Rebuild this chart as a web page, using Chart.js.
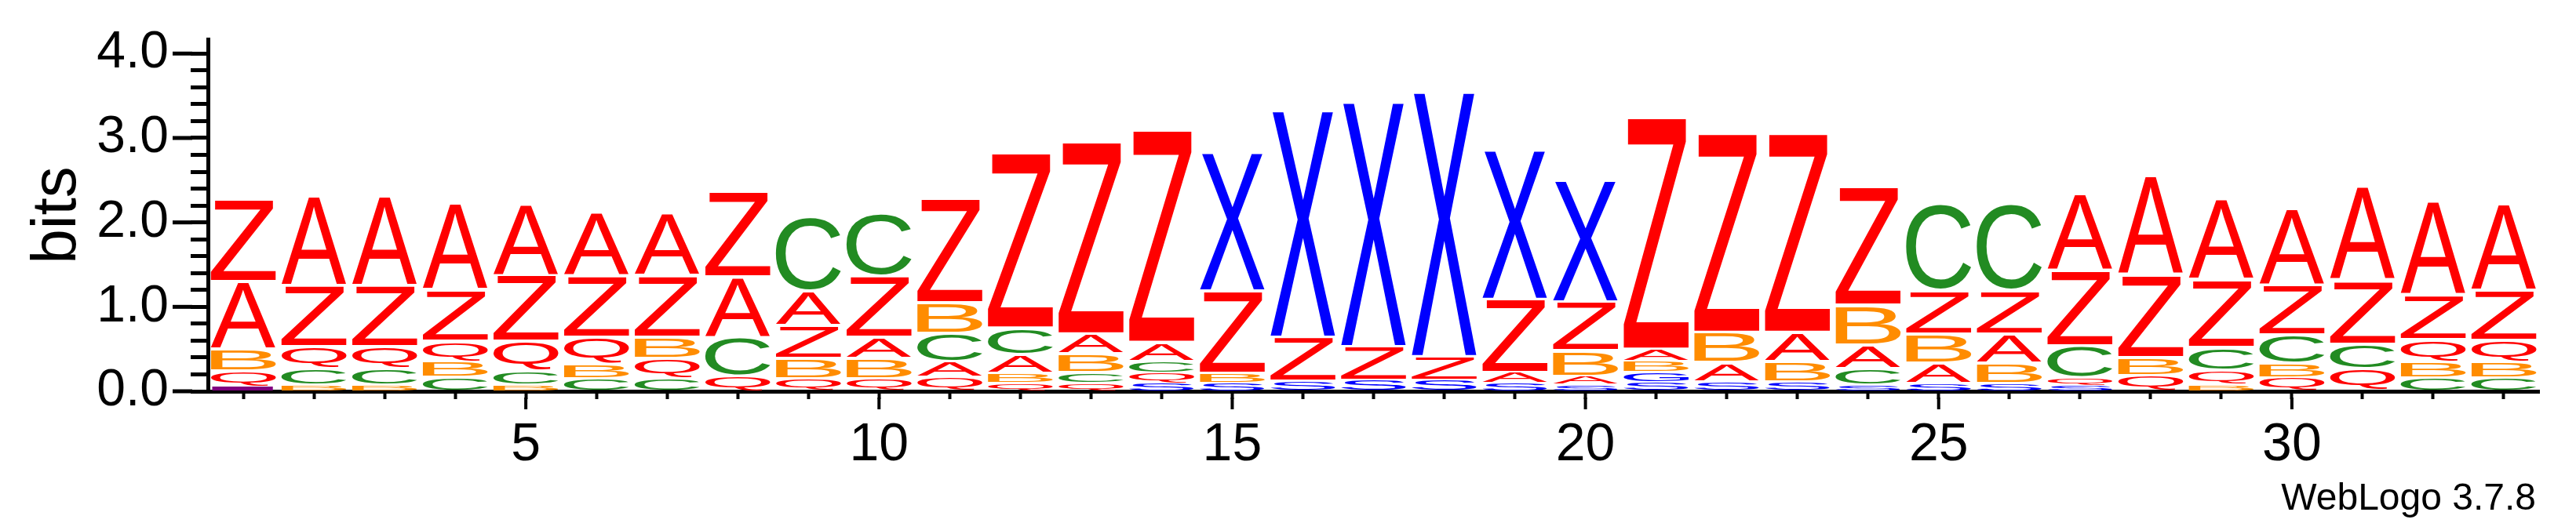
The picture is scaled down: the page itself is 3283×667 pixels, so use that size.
<!DOCTYPE html>
<html>
<head>
<meta charset="utf-8">
<script src="https://cdn.jsdelivr.net/npm/chart.js@4.4.0/dist/chart.umd.min.js"></script>
<style>
    html, body { margin: 0; padding: 0; background: #fff; }
    canvas { display: block; }
</style>
</head>
<body>
<canvas id="logoChart" width="3283" height="667"></canvas>
<script>
// sequence positions (categories)
const positions = [1, 2, 3, 4, 5, 6, 7, 8, 9, 10, 11, 12, 13, 14, 15, 16, 17,
    18, 19, 20, 21, 22, 23, 24, 25, 26, 27, 28, 29, 30, 31, 32, 33];

// letter heights in bits, one value per position (0 = letter not shown)
const bitsA = [0.80, 1.07, 1.07, 1.03, 0.85, 0.75, 0.74, 0.72, 0.41, 0.25, 0.18, 0.22, 0.24, 0.23, 0, 0, 0,
    0, 0.12, 0.10, 0.14, 0.23, 0.35, 0.28, 0.24, 0.35, 0.91, 1.18, 0.96, 0.91, 1.11, 1.12, 1.03];
const bitsB = [0.26, 0.08, 0.08, 0.18, 0.08, 0.17, 0.25, 0, 0.24, 0.24, 0.36, 0.11, 0.22, 0, 0.11, 0, 0,
    0, 0, 0.30, 0.13, 0.36, 0.24, 0.47, 0.35, 0.24, 0, 0.21, 0.08, 0.17, 0, 0.18, 0.18];
const bitsC = [0, 0.19, 0.19, 0.17, 0.16, 0.15, 0.15, 0.46, 0.88, 0.74, 0.34, 0.32, 0.12, 0.13, 0, 0, 0,
    0, 0, 0, 0, 0, 0, 0.19, 1.03, 1.03, 0.38, 0, 0.27, 0.34, 0.29, 0.16, 0.16];
const bitsQ = [0.18, 0.26, 0.26, 0.24, 0.35, 0.32, 0.24, 0.18, 0.15, 0.15, 0.17, 0.10, 0.10, 0.12, 0, 0, 0,
    0, 0, 0, 0, 0, 0, 0, 0, 0, 0.09, 0.19, 0.17, 0.16, 0.27, 0.27, 0.26];
const bitsZ = [0.98, 0.72, 0.72, 0.61, 0.78, 0.73, 0.73, 1.01, 0.39, 0.72, 1.24, 2.08, 2.28, 2.52, 0.98, 0.52, 0.40,
    0.28, 0.87, 0.58, 2.75, 2.36, 2.36, 1.41, 0.51, 0.51, 0.89, 0.98, 0.80, 0.59, 0.75, 0.52, 0.59];
const bitsX = [0, 0, 0, 0, 0, 0, 0, 0, 0, 0, 0, 0, 0, 0, 1.64, 2.69, 2.90,
    3.14, 1.77, 1.44, 0, 0, 0, 0, 0, 0, 0, 0, 0, 0, 0, 0, 0];
const bitsS = [0, 0, 0, 0, 0, 0, 0, 0, 0, 0, 0, 0, 0, 0.10, 0.10, 0.12, 0.13,
    0.13, 0.10, 0.08, 0.11, 0.11, 0.11, 0.08, 0.09, 0.09, 0.07, 0, 0, 0, 0, 0, 0];
const bitsG = [0, 0, 0, 0, 0, 0, 0, 0, 0, 0, 0, 0, 0, 0, 0, 0, 0,
    0, 0, 0, 0.12, 0, 0, 0, 0, 0, 0, 0, 0, 0, 0, 0, 0];
const bitsI = [0.06, 0, 0, 0, 0, 0, 0, 0, 0, 0, 0, 0, 0, 0, 0, 0, 0,
    0, 0, 0, 0, 0, 0, 0, 0, 0, 0, 0, 0, 0, 0, 0, 0];

const xTickLabels = ['5', '10', '15', '20', '25', '30'];
const yTickLabels = ['0.0', '1.0', '2.0', '3.0', '4.0'];
const yMax = Math.log2(18);

const letterBits = { A: bitsA, B: bitsB, C: bitsC, Q: bitsQ, Z: bitsZ, X: bitsX, S: bitsS, G: bitsG, I: bitsI };
const letterColors = {
    A: '#ff0000', Z: '#ff0000', Q: '#ff0000',
    B: '#ff8c00', C: '#228b22',
    X: '#0000ff', S: '#0000ff', G: '#0000ff',
    I: '#800080'
};
const fontFamily = '"Liberation Sans", Arial, Helvetica, sans-serif';

// each column is sorted so the tallest letter sits on top
const stacks = positions.map((p, i) =>
    Object.keys(letterBits)
        .filter(l => letterBits[l][i] > 0)
        .map(l => ({ letter: l, bits: letterBits[l][i] }))
        .sort((a, b) => a.bits - b.bits)
);
const depth = Math.max(...stacks.map(s => s.length));
const datasets = [];
for (let r = 0; r < depth; r++) {
    datasets.push({
        label: 'rank ' + r,
        data: stacks.map(s => s[r] ? s[r].bits : null),
        letters: stacks.map(s => s[r] ? s[r].letter : ''),
        backgroundColor: 'rgba(0,0,0,0)',
        borderWidth: 0,
        stack: 'logo',
        barPercentage: 0.92,
        categoryPercentage: 1.0
    });
}

function drawGlyph(ctx, letter, x, y, w, h, color) {
    const pad = Math.min(2, h * 0.08);
    y += pad;
    h -= pad * 2;
    if (h < 0.5) return;
    ctx.save();
    ctx.font = '200px ' + fontFamily;
    ctx.textAlign = 'left';
    ctx.textBaseline = 'alphabetic';
    const m = ctx.measureText(letter);
    const gw = m.actualBoundingBoxLeft + m.actualBoundingBoxRight;
    const gh = m.actualBoundingBoxAscent + m.actualBoundingBoxDescent;
    const sx = w / gw, sy = h / gh;
    ctx.translate(x + m.actualBoundingBoxLeft * sx, y + m.actualBoundingBoxAscent * sy);
    ctx.scale(sx, sy);
    ctx.fillStyle = color;
    ctx.fillText(letter, 0, 0);
    ctx.restore();
}

// no extra room for the outer tick labels, the area is fixed by layout.padding
function fixScale(s) {
    s.paddingTop = 0;
    s.paddingBottom = 0;
    s.paddingLeft = 0;
    s.paddingRight = 0;
}

const logoPlugin = {
    id: 'logoLetters',
    afterDatasetsDraw(chart) {
        const ctx = chart.ctx;
        chart.data.datasets.forEach((ds, di) => {
            const meta = chart.getDatasetMeta(di);
            meta.data.forEach((bar, i) => {
                const letter = ds.letters[i];
                if (!letter) return;
                const p = bar.getProps(['x', 'y', 'base', 'width'], true);
                const top = Math.min(p.y, p.base);
                drawGlyph(ctx, letter, p.x - p.width / 2, top, p.width, Math.abs(p.base - p.y), letterColors[letter]);
            });
        });
    },
    afterDraw(chart) {
        const ctx = chart.ctx;
        const xs = chart.scales.x, ys = chart.scales.y;
        ctx.save();
        ctx.strokeStyle = '#000';
        ctx.lineWidth = 5;
        // longer marks for the labelled ticks
        yTickLabels.forEach(t => {
            const py = ys.getPixelForValue(parseFloat(t));
            ctx.beginPath();
            ctx.moveTo(ys.right - 45, py);
            ctx.lineTo(ys.right - 20, py);
            ctx.stroke();
        });
        ctx.lineWidth = 4;
        xTickLabels.forEach(t => {
            const px = xs.getPixelForValue(positions.indexOf(parseInt(t)));
            ctx.beginPath();
            ctx.moveTo(px, xs.top + 8);
            ctx.lineTo(px, xs.top + 23);
            ctx.stroke();
        });
        ctx.fillStyle = '#000';
        ctx.font = '48px ' + fontFamily;
        ctx.textAlign = 'right';
        ctx.textBaseline = 'alphabetic';
        ctx.fillText('WebLogo 3.7.8', 3232, 650);
        ctx.restore();
    }
};

new Chart(document.getElementById('logoChart'), {
    type: 'bar',
    data: {
        labels: positions.map(String),
        datasets: datasets
    },
    options: {
        responsive: false,
        animation: false,
        devicePixelRatio: 1,
        layout: { padding: { left: 0, right: 47, top: 50, bottom: 0 } },
        plugins: {
            legend: { display: false },
            tooltip: { enabled: false }
        },
        scales: {
            x: {
                stacked: true,
                offset: true,
                grid: { display: true, drawOnChartArea: false, offset: false, tickLength: 10, tickWidth: 4, tickColor: '#000' },
                border: { display: true, color: '#000', width: 5 },
                ticks: {
                    autoSkip: false, maxRotation: 0, minRotation: 0, padding: 18, color: '#000',
                    font: { size: 68, family: fontFamily },
                    callback: (v, i) => xTickLabels.includes(String(positions[i])) ? String(positions[i]) : ''
                },
                afterFit: s => { fixScale(s); s.height = 168; }
            },
            y: {
                stacked: true,
                min: 0,
                max: yMax,
                grid: { drawOnChartArea: false, tickLength: 22, tickWidth: 5, tickColor: '#000' },
                border: { display: true, color: '#000', width: 5 },
                ticks: {
                    stepSize: 0.2, includeBounds: false, autoSkip: false, maxTicksLimit: 40, padding: 28, color: '#000',
                    font: { size: 66, family: fontFamily },
                    callback: v => yTickLabels.includes(v.toFixed(1)) ? v.toFixed(1) : ''
                },
                title: { display: true, text: 'bits', color: '#000', font: { size: 80, family: fontFamily }, padding: { top: 26, bottom: 0 } },
                afterFit: s => { fixScale(s); s.width = 265; }
            }
        }
    },
    plugins: [logoPlugin]
});
</script>
</body>
</html>
